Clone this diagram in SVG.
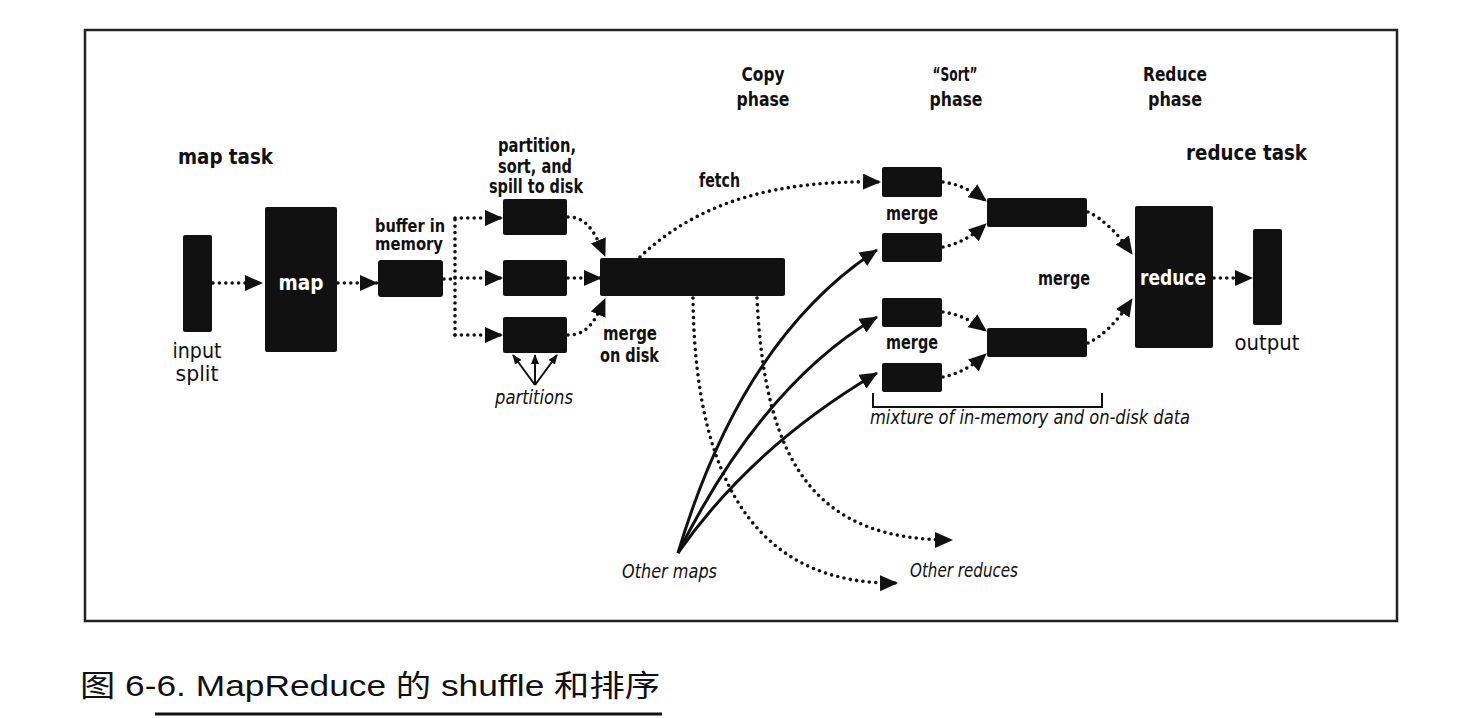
<svg xmlns="http://www.w3.org/2000/svg" width="1458" height="718" viewBox="0 0 1458 718">
<style>
.box{fill:#111;}
.dot{fill:none;stroke:#111;stroke-width:3.6;stroke-linecap:round;stroke-dasharray:0 6.4;}
.sol{fill:none;stroke:#111;stroke-width:3;}
.thin{fill:none;stroke:#111;stroke-width:2;}
text{font-family:"Liberation Sans Narrow","DejaVu Sans Condensed","Liberation Sans",sans-serif;fill:#111;}
.b{font-weight:bold;font-size:22px;}
.s{font-weight:bold;font-size:19px;}
.s2{font-weight:bold;font-size:17px;}
.r{font-size:21px;}
.i{font-style:italic;font-size:20px;}
.w{fill:#fff;font-weight:bold;font-size:22px;}
.cap{font-family:"Liberation Sans","Noto Sans CJK SC",sans-serif;font-size:30px;}
</style>
<defs>
<marker id="ah" markerUnits="userSpaceOnUse" viewBox="0 0 18 16" markerWidth="18" markerHeight="16" refX="17" refY="8" orient="auto"><path d="M0,0 L18,8 L0,16 z" fill="#111"/></marker>
<marker id="sm" markerUnits="userSpaceOnUse" viewBox="0 0 10 8" markerWidth="10" markerHeight="8" refX="9" refY="4" orient="auto"><path d="M0,0 L10,4 L0,8 z" fill="#111"/></marker>
</defs>
<rect x="85" y="30" width="1312" height="591" fill="#fff" stroke="#222" stroke-width="2.5"/>

<g id="labels">
<text class="b" x="178" y="164" textLength="95" lengthAdjust="spacingAndGlyphs">map task</text>
<text class="b" x="1186" y="160" textLength="121" lengthAdjust="spacingAndGlyphs">reduce task</text>
<text class="s" x="763" y="81" text-anchor="middle" textLength="43" lengthAdjust="spacingAndGlyphs">Copy</text>
<text class="s" x="763" y="106" text-anchor="middle" textLength="53" lengthAdjust="spacingAndGlyphs">phase</text>
<text class="s" x="955" y="81" text-anchor="middle" textLength="45" lengthAdjust="spacingAndGlyphs">“Sort”</text>
<text class="s" x="956" y="106" text-anchor="middle" textLength="53" lengthAdjust="spacingAndGlyphs">phase</text>
<text class="s" x="1175" y="81" text-anchor="middle" textLength="64" lengthAdjust="spacingAndGlyphs">Reduce</text>
<text class="s" x="1175" y="106" text-anchor="middle" textLength="54" lengthAdjust="spacingAndGlyphs">phase</text>
<text class="s" x="699" y="187" textLength="41" lengthAdjust="spacingAndGlyphs">fetch</text>
<text class="s" x="537" y="152" text-anchor="middle" textLength="78" lengthAdjust="spacingAndGlyphs">partition,</text>
<text class="s" x="535" y="173" text-anchor="middle" textLength="74" lengthAdjust="spacingAndGlyphs">sort, and</text>
<text class="s" x="536" y="193" text-anchor="middle" textLength="94" lengthAdjust="spacingAndGlyphs">spill to disk</text>
<text class="s2" x="410" y="232" text-anchor="middle" textLength="70" lengthAdjust="spacingAndGlyphs">buffer in</text>
<text class="s2" x="409" y="250" text-anchor="middle" textLength="68" lengthAdjust="spacingAndGlyphs">memory</text>
<text class="s" x="603" y="340" textLength="54" lengthAdjust="spacingAndGlyphs">merge</text>
<text class="s" x="600" y="362" textLength="59" lengthAdjust="spacingAndGlyphs">on disk</text>
<text class="s" x="912" y="220" text-anchor="middle" textLength="52" lengthAdjust="spacingAndGlyphs">merge</text>
<text class="s" x="912" y="349" text-anchor="middle" textLength="52" lengthAdjust="spacingAndGlyphs">merge</text>
<text class="s" x="1064" y="285" text-anchor="middle" textLength="52" lengthAdjust="spacingAndGlyphs">merge</text>
<text class="r" x="197" y="358" text-anchor="middle" textLength="49" lengthAdjust="spacingAndGlyphs">input</text>
<text class="r" x="197" y="381" text-anchor="middle" textLength="43" lengthAdjust="spacingAndGlyphs">split</text>
<text class="r" x="1267" y="350" text-anchor="middle" textLength="65" lengthAdjust="spacingAndGlyphs">output</text>
<text class="i" x="495" y="404" textLength="78" lengthAdjust="spacingAndGlyphs">partitions</text>
<text class="i" x="622" y="578" textLength="95" lengthAdjust="spacingAndGlyphs">Other maps</text>
<text class="i" x="910" y="577" textLength="108" lengthAdjust="spacingAndGlyphs">Other reduces</text>
<text class="i" x="870" y="424" textLength="320" lengthAdjust="spacingAndGlyphs">mixture of in-memory and on-disk data</text>
</g>

<g id="input-split"><rect class="box" x="183" y="235" width="29" height="97" rx="2"/></g>
<g id="map"><rect class="box" x="265" y="207" width="72" height="145" rx="2"/><text class="w" x="301" y="290" text-anchor="middle" textLength="45" lengthAdjust="spacingAndGlyphs">map</text></g>
<g id="buffer"><rect class="box" x="378" y="260" width="65" height="37" rx="3"/></g>
<g id="spill1"><rect class="box" x="503" y="199" width="64" height="36" rx="2"/></g>
<g id="spill2"><rect class="box" x="503" y="260" width="64" height="36" rx="2"/></g>
<g id="spill3"><rect class="box" x="503" y="317" width="64" height="36" rx="2"/></g>
<g id="merged-disk"><rect class="box" x="600" y="258" width="185" height="38" rx="2"/></g>
<g id="m1"><rect class="box" x="882" y="167" width="60" height="30" rx="2"/></g>
<g id="m2"><rect class="box" x="882" y="233" width="60" height="29" rx="2"/></g>
<g id="m3"><rect class="box" x="882" y="298" width="60" height="29" rx="2"/></g>
<g id="m4"><rect class="box" x="882" y="363" width="60" height="29" rx="2"/></g>
<g id="merge-top"><rect class="box" x="987" y="198" width="100" height="29" rx="2"/></g>
<g id="merge-bottom"><rect class="box" x="987" y="328" width="100" height="29" rx="2"/></g>
<g id="reduce"><rect class="box" x="1135" y="206" width="78" height="142" rx="2"/><text class="w" x="1173" y="285" text-anchor="middle" textLength="66" lengthAdjust="spacingAndGlyphs">reduce</text></g>
<g id="output"><rect class="box" x="1253" y="229" width="29" height="96" rx="2"/></g>

<g id="connectors">
<path class="dot" d="M213,283 H262" marker-end="url(#ah)"/>
<path class="dot" d="M338,283 H377" marker-end="url(#ah)"/>
<path class="dot" d="M444,279 H455"/>
<path class="dot" d="M455,335 V218"/>
<path class="dot" d="M455,218 H502" marker-end="url(#ah)"/>
<path class="dot" d="M455,278 H502" marker-end="url(#ah)"/>
<path class="dot" d="M455,335 H502" marker-end="url(#ah)"/>
<path class="dot" d="M568,217 C586,217 594,230 605,256" marker-end="url(#ah)"/>
<path class="dot" d="M568,278 H601" marker-end="url(#ah)"/>
<path class="dot" d="M568,335 C586,335 594,324 605,299" marker-end="url(#ah)"/>
<path class="dot" d="M640,257 C700,200 780,180 880,182" marker-end="url(#ah)"/>
<path class="dot" d="M693,298 C695,500 770,585 897,583" marker-end="url(#ah)"/>
<path class="dot" d="M757,298 C765,470 820,540 952,540" marker-end="url(#ah)"/>
<path class="sol" d="M678,553 Q742,338 877,250" marker-end="url(#ah)"/>
<path class="sol" d="M678,553 Q762,385 877,317" marker-end="url(#ah)"/>
<path class="sol" d="M678,553 Q752,447 877,373" marker-end="url(#ah)"/>
<path class="thin" d="M535,385 L513,355" marker-end="url(#sm)"/>
<path class="thin" d="M535,385 L535,355" marker-end="url(#sm)"/>
<path class="thin" d="M535,385 L557,355" marker-end="url(#sm)"/>
<path class="dot" d="M943,182 Q965,185 986,201" marker-end="url(#ah)"/>
<path class="dot" d="M943,247 Q965,243 986,224" marker-end="url(#ah)"/>
<path class="dot" d="M943,312 Q965,315 986,331" marker-end="url(#ah)"/>
<path class="dot" d="M943,377 Q965,373 986,354" marker-end="url(#ah)"/>
<path class="dot" d="M1088,212 Q1110,222 1132,254" marker-end="url(#ah)"/>
<path class="dot" d="M1088,343 Q1110,333 1132,299" marker-end="url(#ah)"/>
<path class="dot" d="M1214,278 H1252" marker-end="url(#ah)"/>
<path class="thin" d="M873,393 V407 H1102 V393"/>
</g>

<g id="caption">
<text class="cap" x="80" y="696" textLength="580" lengthAdjust="spacingAndGlyphs">图 6-6.  MapReduce 的 shuffle 和排序</text>
<line x1="155" y1="714" x2="662" y2="714" stroke="#111" stroke-width="3"/>
</g>
</svg>
